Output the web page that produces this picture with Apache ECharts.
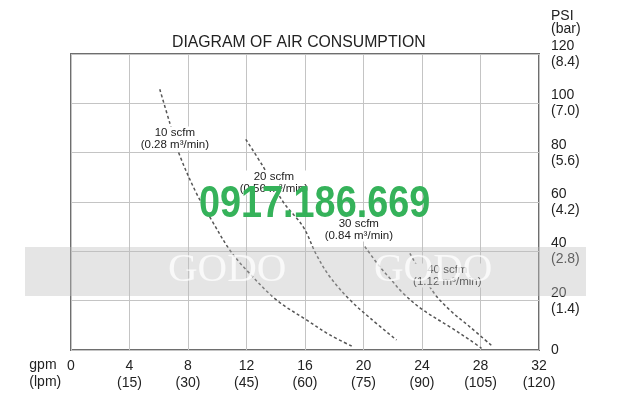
<!DOCTYPE html>
<html>
<head>
<meta charset="utf-8">
<script src="https://cdn.jsdelivr.net/npm/echarts@6/dist/echarts.min.js"></script>
<style>html,body{margin:0;padding:0;background:#fff}#c{width:630px;height:406px}</style>
</head>
<body>
<div id="c"></div>
<script>
// ---- data ----
const chartTitle = 'DIAGRAM OF AIR CONSUMPTION';
const xTickValues = [0, 4, 8, 12, 16, 20, 24, 28, 32];
const xTickLabels = ['0', '4\n(15)', '8\n(30)', '12\n(45)', '16\n(60)', '20\n(75)', '24\n(90)', '28\n(105)', '32\n(120)'];
const yTickValues = [0, 20, 40, 60, 80, 100, 120];
const yTickLabels = ['0', '20\n(1.4)', '40\n(2.8)', '60\n(4.2)', '80\n(5.6)', '100\n(7.0)', '120\n(8.4)'];
const xAxisName = 'gpm\n(lpm)';
const yAxisName = 'PSI\n(bar)';

const curve10 = [[6.07,105.7],[6.76,91.9],[7.39,79.6],[8.58,63.5],[9.61,52.7],[10.86,40.5],[12.0,32.4],[14.05,20.3],[16.1,12.2],[17.7,6.1],[19.3,1.3]];
const curve20 = [[11.95,85.4],[13.14,74.3],[14.5,60.1],[15.87,50.0],[16.79,38.5],[17.7,29.7],[19.07,20.3],[20.44,13.0],[22.26,4.05]];
const curve30 = [[20.09,41.9],[21.11,33.8],[21.8,29.1],[22.71,23.0],[24.07,16.2],[25.9,9.4],[27.27,4.05],[28.07,0.7]];
const curve40 = [[23.17,39.2],[24.76,23.6],[25.9,16.2],[27.27,9.4],[28.86,1.3]];

const curveNames = ['10 scfm', '20 scfm', '30 scfm', '40 scfm'];
const curveSubNames = ['(0.28 m³/min)', '(0.56 m³/min)', '(0.84 m³/min)', '(1.12 m³/min)'];
const curveLabelAt = [[7.10,85.7],[13.87,67.9],[19.68,48.85],[25.73,30.2]];

const watermarkText = '0917.186.669';
const bandText = 'GODO';

// ---- chart ----
const FONT = '"Liberation Sans", Arial, sans-serif';
const curves = [curve10, curve20, curve30, curve40];

const chart = echarts.init(document.getElementById('c'), null, {renderer: 'canvas'});
chart.setOption({
  animation: false,
  backgroundColor: '#fff',
  title: {
    text: chartTitle, left: 167, top: 30,
    textStyle: {fontFamily: FONT, fontSize: 15.8, fontWeight: 'normal', color: '#222'}
  },
  grid: {left: 71, right: 91, top: 54, bottom: 56, show: true, borderColor: '#6e6e6e', borderWidth: 2, backgroundColor: 'transparent'},
  xAxis: {
    type: 'value', min: 0, max: 32, interval: 4,
    name: xAxisName, nameLocation: 'start', nameGap: 39,
    nameTextStyle: {fontFamily: FONT, fontSize: 14, color: '#222', align: 'left', verticalAlign: 'top', lineHeight: 17, padding: [7, 0, 0, 0]},
    axisLine: {show: false, onZero: false}, axisTick: {show: false},
    splitLine: {show: true, lineStyle: {color: '#c4c4c4', width: 1}},
    axisLabel: {
      margin: 8, fontFamily: FONT, fontSize: 14, color: '#222', lineHeight: 17,
      showMinLabel: true, showMaxLabel: true,
      formatter: v => { const i = xTickValues.indexOf(v); return i >= 0 ? xTickLabels[i] : ''; }
    }
  },
  yAxis: {
    type: 'value', position: 'right', min: 0, max: 120, interval: 20,
    name: yAxisName, nameLocation: 'end', nameGap: 18,
    nameTextStyle: {fontFamily: FONT, fontSize: 14, color: '#222', align: 'left', verticalAlign: 'bottom', lineHeight: 13, padding: [0, 0, 0, 12]},
    axisLine: {show: false, onZero: false}, axisTick: {show: false},
    splitLine: {show: true, lineStyle: {color: '#c4c4c4', width: 1}},
    axisLabel: {
      margin: 12, fontFamily: FONT, fontSize: 14, color: '#222', lineHeight: 16, align: 'left',
      padding: [3, 0, 0, 0],
      showMinLabel: true, showMaxLabel: true,
      formatter: v => { const i = yTickValues.indexOf(v); return i >= 0 ? yTickLabels[i] : ''; }
    }
  },
  series: curves.map((d, k) => ({
    type: 'line', name: curveNames[k], data: d, smooth: 0.35,
    symbol: 'none', z: 3,
    lineStyle: {color: '#555', width: 1.5, type: [3, 2.5]},
    markPoint: {
      symbol: 'circle', symbolSize: 0, silent: true,
      data: [{coord: curveLabelAt[k]}],
      label: {
        show: true, position: 'inside',
        formatter: curveNames[k] + '\n' + curveSubNames[k],
        fontFamily: FONT, fontSize: 11.5, lineHeight: 12, color: '#222',
        backgroundColor: '#fff', padding: [0, 1]
      }
    }
  })),
  graphic: [
    {type: 'rect', z: 100, silent: true, shape: {x: 25, y: 247, width: 561, height: 49},
     style: {fill: 'rgba(190,190,190,0.4)'}},
    {type: 'text', z: 101, silent: true, x: 168, y: 270,
     style: {text: bandText, fontFamily: '"Liberation Serif", serif', fontSize: 41, fill: 'rgba(255,255,255,0.75)', align: 'left', verticalAlign: 'middle'}},
    {type: 'text', z: 101, silent: true, x: 374, y: 270,
     style: {text: bandText, fontFamily: '"Liberation Serif", serif', fontSize: 41, fill: 'rgba(255,255,255,0.75)', align: 'left', verticalAlign: 'middle'}},
    {type: 'text', z: 102, silent: true, x: 199, y: 205, scaleX: 0.84,
     style: {text: watermarkText, fontFamily: FONT, fontSize: 45, fontWeight: 'bold', fill: '#35b25a', align: 'left', verticalAlign: 'middle'}}
  ]
});
</script>
</body>
</html>
